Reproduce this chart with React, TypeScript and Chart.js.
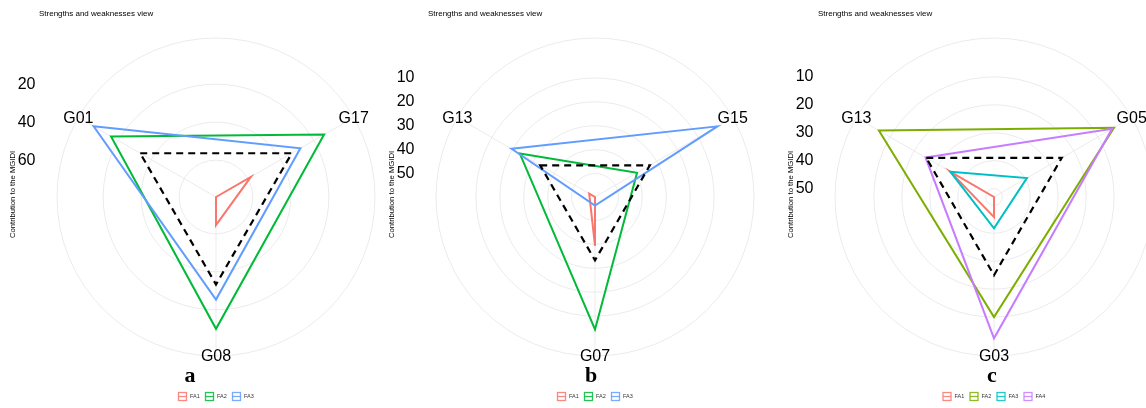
import { useEffect, useRef } from "react";
import { Chart, registerables } from "chart.js";

Chart.register(...registerables);

// ---------- data ----------
const factorNames3 = ["FA1", "FA2", "FA3"];
const factorNames4 = ["FA1", "FA2", "FA3", "FA4"];

const genotypesA = ["G01", "G17", "G08"];
const fa1A = [79.4, 58.2, 64.6];
const fa2A = [15.6, 13.7, 10.0];
const fa3A = [5.0, 28.1, 25.4];
const ticksA = [20, 40, 60];

const genotypesB = ["G13", "G15", "G07"];
const fa1B = [57.0, 59.8, 39.4];
const fa2B = [23.5, 39.5, 4.4];
const fa3B = [19.5, 0.7, 56.2];
const ticksB = [10, 20, 30, 40, 50];

const genotypesC = ["G13", "G05", "G03"];
const fa1C = [34.9, 53.0, 45.8];
const fa2C = [5.4, 3.4, 10.0];
const fa3C = [35.0, 39.4, 41.8];
const fa4C = [24.7, 4.2, 2.4];
const ticksC = [10, 20, 30, 40, 50];

// ---------- layout / style ----------
const W = 1146;
const H = 408;
const CW = 1200; // canvas width; the page clips it at W
const CY = 197.5;
const R = 159.5; // outer ring; data range spans 0.4/0.45 of it
const SANS = '"Liberation Sans", Arial, Helvetica, sans-serif';
const SERIF = '"Liberation Serif", "Times New Roman", serif';

const hue3 = ["#F8766D", "#00BA38", "#619CFF"];
const hue4 = ["#F8766D", "#7CAE00", "#00BFC4", "#C77CFF"];

type Panel = {
  cx: number;
  titleX: number;
  letter: string;
  letterX: number;
  genotypes: string[];
  ticks: number[];
  names: string[];
  values: number[][];
  colors: string[];
};

const panels: Panel[] = [
  {
    cx: 216, titleX: 39, letter: "a", letterX: 190,
    genotypes: genotypesA, ticks: ticksA, names: factorNames3,
    values: [fa1A, fa2A, fa3A], colors: hue3,
  },
  {
    cx: 595, titleX: 428, letter: "b", letterX: 591,
    genotypes: genotypesB, ticks: ticksB, names: factorNames3,
    values: [fa1B, fa2B, fa3B], colors: hue3,
  },
  {
    cx: 994, titleX: 818, letter: "c", letterX: 992,
    genotypes: genotypesC, ticks: ticksC, names: factorNames4,
    values: [fa1C, fa2C, fa3C, fa4C], colors: hue4,
  },
];

function decorPlugin(p: Panel) {
  return {
    id: "mgidiDecor",
    afterDraw(chart: any) {
      const ctx: CanvasRenderingContext2D = chart.ctx;
      const s = chart.scales.r;
      ctx.save();
      ctx.fillStyle = "#000";

      // title
      ctx.font = `8px ${SANS}`;
      ctx.textAlign = "left";
      ctx.textBaseline = "middle";
      ctx.fillText("Strengths and weaknesses view", p.titleX, 14);

      // radial axis title
      ctx.save();
      ctx.translate(p.cx - 203, CY - 3);
      ctx.rotate(-Math.PI / 2);
      ctx.textAlign = "center";
      ctx.font = `7.7px ${SANS}`;
      ctx.fillText("Contribution to the MGIDI", 0, 0);
      ctx.restore();

      // radial tick labels on the left
      ctx.font = `16px ${SANS}`;
      ctx.textAlign = "right";
      p.ticks.forEach((v) => {
        const y = s.yCenter - s.getDistanceFromCenterForValue(v);
        ctx.fillText(String(v), s.xCenter - 180.5, y);
      });

      // genotype labels centred on the outer ring
      ctx.textAlign = "center";
      p.genotypes.forEach((g, i) => {
        const pt = s.getPointPosition(i, s.drawingArea);
        ctx.fillText(g, pt.x, pt.y + 1);
      });

      // legend
      const step = 27;
      const total = p.names.length * step - 5;
      let x = p.cx - total / 2;
      const ly = 396.5;
      ctx.font = `5.5px ${SANS}`;
      ctx.textAlign = "left";
      p.names.forEach((name, i) => {
        ctx.strokeStyle = p.colors[i];
        ctx.lineWidth = 1.3;
        ctx.globalAlpha = 0.85;
        ctx.strokeRect(x + 0.5, ly - 4, 8, 8);
        ctx.beginPath();
        ctx.moveTo(x + 0.5, ly);
        ctx.lineTo(x + 8.5, ly);
        ctx.stroke();
        ctx.globalAlpha = 1;
        ctx.fillStyle = "#333";
        ctx.fillText(name, x + 12, ly);
        x += step;
      });

      // panel letter
      ctx.fillStyle = "#000";
      ctx.font = `bold 22px ${SERIF}`;
      ctx.textAlign = "center";
      ctx.textBaseline = "alphabetic";
      ctx.fillText(p.letter, p.letterX, 382);
      ctx.restore();
    },
  };
}

function RadarPanel({ p }: { p: Panel }) {
  const ref = useRef<HTMLCanvasElement | null>(null);

  useEffect(() => {
    if (!ref.current) return;
    const equalShare = 100 / p.names.length;
    const all = p.values.flat().concat([equalShare]);
    const dMax = Math.max(...all);
    const dMin = Math.min(...all);
    // reversed radial axis: largest contribution at the centre,
    // data fills 0.4 of the radius, outer ring sits at 0.45
    const rMax = dMax;
    const rMin = dMax - ((dMax - dMin) * 0.45) / 0.4;

    const seriesSets = p.values.map((vals, i) => ({
      label: p.names[i],
      data: vals,
      borderColor: p.colors[i],
      borderWidth: 2,
      pointRadius: 0,
      fill: false,
    }));

    const chart = new Chart(ref.current, {
      type: "radar",
      data: {
        labels: p.genotypes,
        datasets: [
          {
            label: "equal",
            data: p.genotypes.map(() => equalShare),
            borderColor: "#000",
            borderWidth: 2.2,
            borderDash: [7, 5],
            pointRadius: 0,
            fill: false,
          },
          ...seriesSets.reverse(),
        ],
      },
      options: {
        responsive: false,
        animation: false,
        devicePixelRatio: 1,
        layout: {
          padding: {
            left: p.cx - R,
            right: CW - p.cx - R,
            top: CY - R,
            bottom: H - CY - R,
          },
        },
        elements: { line: { tension: 0, borderJoinStyle: "miter" } },
        plugins: {
          legend: { display: false },
          tooltip: { enabled: false },
          title: { display: false },
        },
        scales: {
          r: {
            min: rMin,
            max: rMax,
            reverse: true,
            startAngle: -60,
            grid: { circular: true, color: "#EBEBEB", lineWidth: 1 },
            angleLines: { color: "#EBEBEB", lineWidth: 1 },
            ticks: { display: false },
            pointLabels: { display: false },
            afterBuildTicks: (scale: any) => {
              scale.ticks = [rMax, rMin, ...p.ticks].map((v) => ({ value: v }));
            },
          },
        },
      } as any,
      plugins: [decorPlugin(p)],
    });
    return () => chart.destroy();
  }, [p]);

  return (
    <canvas
      ref={ref}
      width={CW}
      height={H}
      style={{ position: "absolute", left: 0, top: 0, width: CW, height: H }}
    />
  );
}

export default function App() {
  return (
    <div
      style={{
        position: "absolute",
        left: 0,
        top: 0,
        width: W,
        height: H,
        background: "#fff",
        overflow: "hidden",
      }}
    >
      {panels.map((p) => (
        <RadarPanel key={p.letter} p={p} />
      ))}
    </div>
  );
}
